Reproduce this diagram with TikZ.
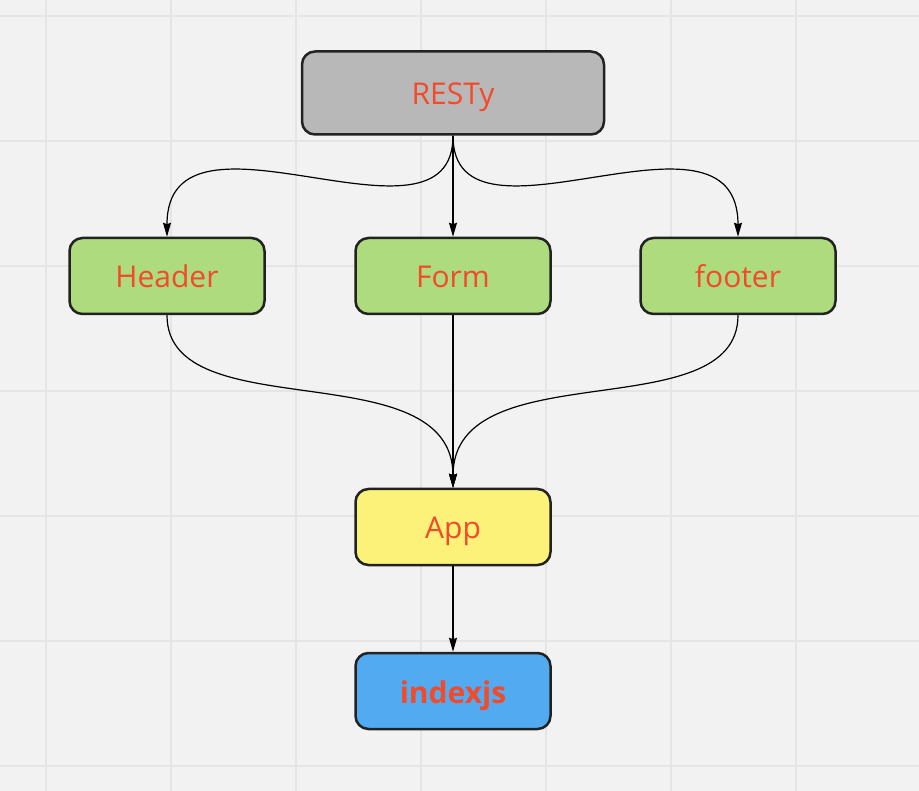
\documentclass[tikz,border=0pt]{standalone}
\usepackage{fontspec}
\setmainfont{Open Sans}
\usepackage{xcolor}
\usetikzlibrary{arrows.meta,positioning}

\definecolor{boardbg}{HTML}{F2F2F2}
\definecolor{gridline}{HTML}{E5E5E5}
\definecolor{labelred}{HTML}{F24A2A}
\definecolor{restygray}{HTML}{B8B8B8}
\definecolor{partgreen}{HTML}{ADDB7E}
\definecolor{appyellow}{HTML}{FCF279}
\definecolor{indexblue}{HTML}{52ABF0}
\definecolor{boxedge}{HTML}{222222}

\tikzset{
	box/.style={draw=boxedge, line width=2.5pt, rounded corners=13pt,
		minimum width=195pt, minimum height=76pt, text=labelred,
		text height=24pt, text depth=0pt,
		font=\fontsize{30}{36}\selectfont},
	link/.style={line width=1.2pt, -{Stealth[length=14pt,width=8pt,inset=1.5pt]}}
}

\begin{document}
\begin{tikzpicture}[x=1pt,y=-1pt]
	\newcommand{\boardWidth}{919}
	\newcommand{\boardHeight}{791}

	% board and grid
	\fill[boardbg] (0,0) rectangle (\boardWidth,\boardHeight);
	\useasboundingbox (0,0) rectangle (\boardWidth,\boardHeight);
	\foreach \gx in {46,171,...,900}
		\draw[gridline, line width=1.5pt] (\gx,0) -- (\gx,\boardHeight);
	\foreach \gy in {16,141,...,790}
		\draw[gridline, line width=1.5pt] (0,\gy) -- (\boardWidth,\gy);

	% components
	\node[box, fill=restygray, minimum width=302pt, minimum height=83pt] (resty) at (453,93) {RESTy};
	\node[box, fill=partgreen] (form) at (453,276) {Form};
	\node[box, fill=partgreen] (header) at (167,276) {Header};
	\node[box, fill=partgreen] (footer) at (738,276) {footer};
	\node[box, fill=appyellow] (app) at (453,527) {App};
	\node[box, fill=indexblue, font=\fontsize{30}{36}\selectfont\bfseries] (indexjs) at (453,691) {indexjs};

	% imports from RESTy
	\draw[link] (resty.south) .. controls (453,265) and (167,87) .. (header.north);
	\draw[link] (resty.south) -- (form.north);
	\draw[link] (resty.south) .. controls (453,265) and (738,87) .. (footer.north);

	% imports into App
	\draw[link] (header.south) .. controls (167,430) and (453,350) .. (app.north);
	\draw[link] (form.south) -- (app.north);
	\draw[link] (footer.south) .. controls (738,430) and (453,350) .. (app.north);
	\draw[link] (app.south) -- (indexjs.north);
\end{tikzpicture}
\end{document}
